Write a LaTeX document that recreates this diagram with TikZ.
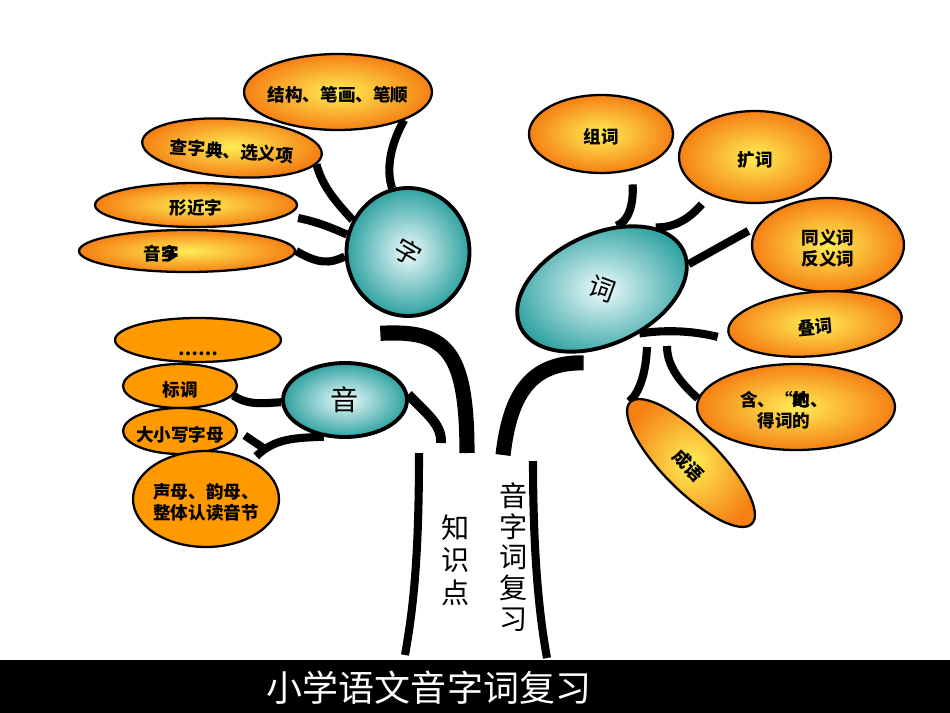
\documentclass[tikz,border=0pt]{standalone}
\usepackage{fontspec}
\setmainfont{Noto Sans CJK SC}
\usepackage{tikz}
\usetikzlibrary{shapes.geometric,backgrounds}
\definecolor{leafout}{RGB}{245,128,20}
\definecolor{leafin}{RGB}{255,238,85}
\definecolor{leafflat}{RGB}{255,153,0}
\definecolor{hubout}{RGB}{48,162,162}
\definecolor{hubin}{RGB}{238,251,251}
\newcommand{\tx}[2][0pt]{\makebox[0pt]{\raisebox{-0.2cm}[0pt][0pt]{\begin{tabular}{@{}c@{}}#2\end{tabular}}\hspace*{#1}}}
\tikzset{
  pod/.style={ellipse, draw, line width=1.3pt, inner sep=0pt,
    font=\fontsize{10}{12.5}\selectfont\bfseries},
  leaf/.style={pod, shading=radial, inner color=leafin, outer color=leafout},
  flatleaf/.style={pod, fill=leafflat},
  hub/.style={ellipse, draw, line width=2.2pt, inner sep=0pt, shading=radial,
    inner color=hubin, outer color=hubout, font=\fontsize{15}{17}\selectfont},
  twig/.style={line width=4.6pt},
  bough/.style={line width=8.6pt},
  stem/.style={line width=5.6pt},
  trunk/.style={line width=4.6pt}
}
\begin{document}
\begin{tikzpicture}[x=0.02cm, y=-0.02cm]
\useasboundingbox (0,0) rectangle (950,713);

% crown of 字
\node[hub, minimum width=2.46cm, minimum height=2.56cm] (zi) at (408,252) {\rotatebox[origin=c]{-30}{字}};
\node[leaf, minimum width=3.76cm, minimum height=1.52cm] (jg) at (338,92) {\tx{结构、笔画、笔顺}};
\node[leaf, rotate=-4, minimum width=3.6cm, minimum height=1.16cm] (cz) at (232,148) {\tx{查字典、选义项}};
\node[leaf, minimum width=4.04cm, minimum height=0.88cm] (xj) at (196,205) {\tx{形近字}};
\node[leaf, minimum width=4.32cm, minimum height=0.84cm] (yd) at (187,251) {\tx[1.04cm]{音\rlap{多}字}};

% crown of 词
\node[hub, rotate=25, minimum width=3.6cm, minimum height=2.2cm] (ci) at (602,289) {\rotatebox[origin=c]{-45}{词}};
\node[leaf, minimum width=2.88cm, minimum height=1.56cm] (zc) at (601,134) {\tx{组词}};
\node[leaf, minimum width=3.04cm, minimum height=1.84cm] (kc) at (755,157) {\tx{扩词}};
\node[leaf, minimum width=3.04cm, minimum height=1.88cm] (ty) at (828,245) {\tx{同义词\\反义词}};
\node[leaf, rotate=5, minimum width=3.48cm, minimum height=1.28cm] (dc) at (815,324) {\tx{叠词}};
\node[leaf, minimum width=3.96cm, minimum height=1.72cm] (de) at (796,407) {\tx[0.48cm]{含、“\rlap{地}的、\\得词的}};
\node[leaf, rotate=-45, minimum width=3.44cm, minimum height=1.12cm] (cy) at (691,463) {\tx{成语}};

% crown of 音
\node[hub, minimum width=2.48cm, minimum height=1.48cm, font=\fontsize{16}{18}\selectfont] (yin) at (345,400) {音};
\node[flatleaf, minimum width=3.32cm, minimum height=0.88cm] (dots) at (198,340) {\makebox[0pt]{\raisebox{-0.3cm}[0pt][0pt]{……}}};
\node[flatleaf, minimum width=2.28cm, minimum height=0.88cm] (bd) at (180,386) {\tx{标调}};
\node[flatleaf, minimum width=2.28cm, minimum height=0.92cm] (dx) at (180,431) {\tx{大小写字母}};
\node[flatleaf, minimum width=2.92cm, minimum height=1.92cm] (sm) at (206,499) {\tx{声母、韵母、\\整体认读音节}};

% loose ends
\coordinate (trunkL) at (467,453);
\coordinate (trunkR) at (503,455);
\coordinate (yinend) at (441,443);
\coordinate (deend) at (667,346);
\coordinate (cyend) at (647,347);

\begin{scope}[on background layer]
  \draw[twig] (jg.-23) .. controls (390,145) and (386,170) .. (zi.104);
  \draw[twig] (cz.-7) .. controls (322,185) and (334,200) .. (zi.150);
  \draw[twig] ([yshift=-0.26cm]xj.east) .. controls (318,222) and (332,228) .. (zi.164);
  \draw[twig] (yd.east) .. controls (318,264) and (330,264) .. (zi.184);
  \draw[bough] ([yshift=-0.44cm]zi.245) .. controls (445,330) and (467,348) .. (trunkL);

  \draw[bough] ([yshift=-0.2cm]ci.-131) .. controls (530,362) and (510,395) .. (trunkR);
  \draw[twig, shorten <=0.28cm] (zc.-50) .. controls (634,205) and (628,222) .. (ci.52);
  \draw[twig, shorten <=0.24cm] (kc.-140) .. controls (690,218) and (675,228) .. (ci.24);
  \draw[twig, shorten <=0.2cm] (ty.165) -- (ci.-9);
  \draw[twig, shorten <=0.28cm] (dc.186) .. controls (690,330) and (662,330) .. (ci.-75);
  \draw[twig] (de.175) .. controls (675,378) and (667,362) .. (deend);
  \draw[twig] (cy.west) .. controls (640,392) and (646,372) .. (cyend);

  \draw[stem] (yin.5) .. controls (428,415) and (442,425) .. (yinend);
  \draw[twig] (bd.-10) .. controls (248,406) and (265,403) .. (yin.182);
  \draw[twig, shorten >=0.12cm] (yin.-120) .. controls (295,438) and (275,438) .. (sm.40) coordinate[pos=0.8] (fork);
  \draw[twig, shorten <=0.16cm] (dx.east) -- (fork);
\end{scope}

% trunk
\draw[trunk] (419,453) .. controls (419,560) and (413,610) .. (405,655);
\draw[trunk] (533,461) .. controls (533,560) and (540,620) .. (547,658);
\node[font=\fontsize{16}{18.4}\selectfont, align=center] (zsd) at (456,560) {知\\识\\点};
\node[font=\fontsize{16}{17.4}\selectfont, align=center] (yzc) at (514,557) {音\\字\\词\\复\\习};

% title bar
\fill (0,660) rectangle (950,713);
\node[white, font=\fontsize{20.5}{24}\selectfont] (title) at (429,688) {小学语文音字词复习};
\end{tikzpicture}
\end{document}
